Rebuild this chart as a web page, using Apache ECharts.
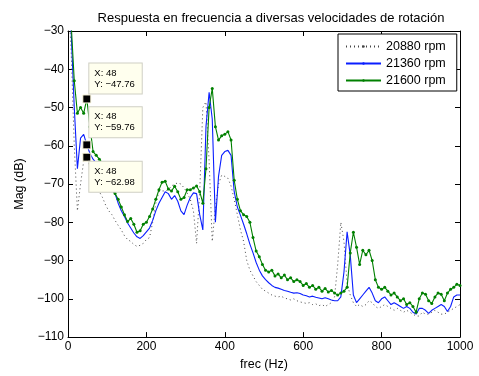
<!DOCTYPE html>
<html>
<head>
<meta charset="utf-8">
<script src="https://cdn.jsdelivr.net/npm/echarts@6/dist/echarts.min.js"></script>
<style>
  html, body { margin: 0; padding: 0; background: #fff; }
  #chart { width: 479px; height: 376px; }
</style>
</head>
<body>
<div id="chart"></div>
<script>
// Frequency bins (Hz)
const freq = [
  0, 8, 16, 24, 32, 40, 48, 56, 64, 72, 80, 88, 96, 104, 112, 120, 128, 136, 144, 152,
  160, 168, 176, 184, 192, 200, 208, 216, 224, 232, 240, 248, 256, 264, 272, 280, 288, 296, 304, 312,
  320, 328, 336, 344, 352, 360, 368, 376, 384, 392, 400, 408, 416, 424, 432, 440, 448, 456, 464, 472,
  480, 488, 496, 504, 512, 520, 528, 536, 544, 552, 560, 568, 576, 584, 592, 600, 608, 616, 624, 632,
  640, 648, 656, 664, 672, 680, 688, 696, 704, 712, 720, 728, 736, 744, 752, 760, 768, 776, 784, 792,
  800, 808, 816, 824, 832, 840, 848, 856, 864, 872, 880, 888, 896, 904, 912, 920, 928, 936, 944, 952,
  960, 968, 976, 984, 992, 1000
];

// Magnitude (dB) at 20880 rpm
const mag20880 = [
  -20, -35, -60, -77, -70, -64, -62.98, -65.5, -68, -70, -72, -73.5, -75.5, -77, -78, -79.5, -80.8, -82, -83.5, -84.5,
  -85, -85.8, -86.3, -86, -85.5, -84.5, -84, -80, -75, -72, -71.8, -71.8, -71.5, -70.5, -70, -69.7, -70, -71, -72.3, -74,
  -77, -85.5, -72, -50, -48.5, -64, -85, -76, -70, -67.7, -68, -68.5, -70.5, -74, -78, -82, -85, -90, -92.5, -94,
  -95.5, -96.5, -97.5, -98, -98.5, -99, -99.3, -99.5, -99.3, -99.8, -100, -100.3, -100, -100.5, -100.8, -101, -101.2, -101, -101.5, -101.3,
  -101.8, -101.5, -102, -101.5, -101, -99.5, -91, -80, -85, -96, -99, -101, -102, -101.5, -102, -101.5, -100.5, -101, -102, -102.5,
  -102, -101.5, -102, -102.5, -103, -102.5, -103, -103.5, -103, -103.5, -104, -104.5, -104.5, -103.5, -104, -104, -103.5, -103, -103.5, -104,
  -104, -103.5, -103, -102.5, -102, -101.5
];

// Magnitude (dB) at 21360 rpm
const mag21360 = [
  -20, -30, -50, -66, -58, -57, -59.76, -62, -63.5, -64.5, -65.5, -66.5, -67.5, -69, -71, -72.5, -75, -77, -78.5, -80.2,
  -81.5, -82.8, -83.8, -84.2, -83.5, -82.5, -81.5, -79.5, -77, -75, -73.5, -72, -72.5, -74, -73, -74.5, -77, -78, -75.5, -73.5,
  -72.3, -72.5, -78, -82, -55, -46, -53, -80, -68, -62.5, -61.5, -61.2, -62.5, -72, -76, -78.2, -80.5, -83, -85.7, -88,
  -90.5, -92.5, -94, -95, -95.8, -96.5, -97, -97.2, -97.5, -97.8, -98, -98.3, -98.5, -98.4, -98.6, -99, -99.2, -99.5, -99.3, -99.6,
  -99.8, -100, -99.7, -100, -100.3, -100.5, -100.5, -99.5, -93, -82.5, -88.5, -99, -101, -100, -99, -98, -97, -98.5, -100.5, -101,
  -100, -99.5, -100.5, -101.5, -101, -101.5, -102, -102.5, -102, -102.5, -103.5, -104, -102.5, -102.5, -103, -103.8, -103, -102.5, -102, -101.5,
  -102, -103.3, -102, -99.5, -99, -99
];

// Magnitude (dB) at 21600 rpm
const mag21600 = [
  -20, -28, -43, -51.5, -50, -51.5, -47.76, -55, -61.5, -62.5, -63.5, -64.5, -66.5, -69.5, -71.5, -72.5, -74, -76, -78, -79.8,
  -79, -80.5, -82.6, -82.2, -80.5, -80, -78.5, -76.5, -74, -71.5, -69.5, -69.3, -71.3, -71.8, -70.6, -72, -74, -73.5, -71.5, -71.5,
  -71, -70.5, -72, -75, -66, -50, -45, -55, -58.5, -57.4, -57, -56.3, -58.5, -69, -74, -77, -78, -78.5, -80, -84,
  -87.5, -89, -91, -92.5, -93, -92.5, -94, -93.5, -94.5, -93.8, -95, -94.5, -95.5, -95, -95.5, -96.5, -96, -97, -96.5, -97.5,
  -97, -98, -97.3, -98.2, -97.8, -98.5, -99, -98.5, -98, -97, -88, -82.6, -86.5, -91, -87.3, -88.5, -87.3, -90, -95, -97,
  -97.5, -97, -98, -99, -98.5, -99.5, -100.5, -100, -101.5, -101, -102, -103.5, -100, -98.5, -98.8, -100.5, -101.2, -99.5, -98.5, -98.8,
  -100.5, -98.5, -97.5, -97, -96.2, -96.5
];

const seriesNames = ['20880 rpm', '21360 rpm', '21600 rpm'];
const tipFreq = 48;

const FONT = 'Liberation Sans, Arial, Helvetica, sans-serif';
const minus = v => (v < 0 ? '\u2212' + Math.abs(v) : String(v));

function pairs(values) {
  return freq.map((f, i) => [f, values[i]]);
}

// Data cursor: black square at the sample plus a yellow note with its coordinates
function dataTip(values, labelPos, vAlign) {
  const idx = freq.indexOf(tipFreq);
  return {
    silent: true,
    symbol: 'rect',
    symbolSize: 8,
    itemStyle: { color: '#000', borderColor: '#fffbe0', borderWidth: 1 },
    label: {
      show: true,
      position: labelPos,
      align: 'left',
      verticalAlign: vAlign,
      formatter: p => 'X: ' + p.data.coord[0] + '\nY: ' + minus(p.data.coord[1].toFixed(2)),
      fontFamily: FONT,
      fontSize: 9.5,
      lineHeight: 11,
      color: '#000',
      backgroundColor: '#ffffee',
      borderColor: '#cfcfc4',
      borderWidth: 1,
      padding: [4, 7, 4, 5]
    },
    data: [{ coord: [freq[idx], values[idx]] }]
  };
}

const axisLine = { show: true, onZero: false, lineStyle: { color: '#000', width: 1 } };
const axisTick = { show: true, inside: true, length: 5, lineStyle: { color: '#000', width: 1 } };

const chart = echarts.init(document.getElementById('chart'), null, { renderer: 'canvas' });

chart.setOption({
  animation: false,
  backgroundColor: '#fff',
  textStyle: { fontFamily: FONT, color: '#000' },
  title: {
    text: 'Respuesta en frecuencia a diversas velocidades de rotación',
    left: 266,
    top: 7,
    textAlign: 'center',
    textStyle: { fontFamily: FONT, fontSize: 13, fontWeight: 'normal', color: '#000' }
  },
  legend: {
    data: seriesNames,
    orient: 'vertical',
    left: 338,
    top: 34,
    itemWidth: 35,
    itemHeight: 3,
    itemGap: 4,
    padding: [6, 11, 4, 7],
    borderColor: '#000',
    borderWidth: 1,
    backgroundColor: '#fff',
    textStyle: { fontFamily: FONT, fontSize: 12.5, color: '#000' }
  },
  grid: { left: 68, right: 19, top: 31, bottom: 35, containLabel: false },
  xAxis: [
    {
      type: 'value', min: 0, max: 1000, interval: 200, position: 'bottom',
      name: 'frec (Hz)', nameLocation: 'middle', nameGap: 17,
      nameTextStyle: { fontFamily: FONT, fontSize: 12.5, color: '#000' },
      axisLine, axisTick, splitLine: { show: false },
      axisLabel: { fontFamily: FONT, fontSize: 12, color: '#000', margin: 4, formatter: v => String(v) }
    },
    {
      type: 'value', min: 0, max: 1000, interval: 200, position: 'top',
      axisLine, axisTick, splitLine: { show: false }, axisLabel: { show: false }
    }
  ],
  yAxis: [
    {
      type: 'value', min: -110, max: -30, interval: 10, position: 'left',
      name: 'Mag (dB)', nameLocation: 'middle', nameGap: 40, nameRotate: 90,
      nameTextStyle: { fontFamily: FONT, fontSize: 12.5, color: '#000' },
      axisLine, axisTick, splitLine: { show: false },
      axisLabel: { fontFamily: FONT, fontSize: 12, color: '#000', margin: 4, formatter: minus }
    },
    {
      type: 'value', min: -110, max: -30, interval: 10, position: 'right',
      axisLine, axisTick, splitLine: { show: false }, axisLabel: { show: false }
    }
  ],
  series: [
    {
      name: seriesNames[0], type: 'line', data: pairs(mag20880),
      symbol: 'none', color: '#444', clip: true,
      lineStyle: { color: '#444', width: 1, type: [1, 3] },
      markPoint: dataTip(mag20880, [7, 9], 'top'),
      z: 2
    },
    {
      name: seriesNames[1], type: 'line', data: pairs(mag21360),
      symbol: 'none', color: '#0a1eff', clip: true,
      lineStyle: { color: '#0a1eff', width: 1.1 },
      markPoint: dataTip(mag21360, [7, -3], 'bottom'),
      z: 3
    },
    {
      name: seriesNames[2], type: 'line', data: pairs(mag21600),
      symbol: 'circle', symbolSize: 3, showSymbol: true, color: '#008000', clip: true,
      itemStyle: { color: '#008000' },
      lineStyle: { color: '#008000', width: 1.1 },
      markPoint: dataTip(mag21600, [7, -1], 'bottom'),
      z: 4
    }
  ]
});
</script>
</body>
</html>
